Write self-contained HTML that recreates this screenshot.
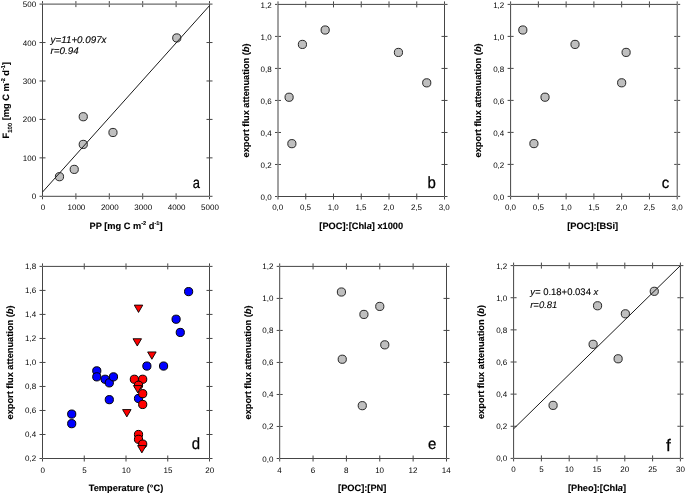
<!DOCTYPE html>
<html lang="en"><head><meta charset="utf-8"><title>Figure</title>
<style>
html,body{margin:0;padding:0;background:#fff}
body{width:685px;height:495px;overflow:hidden}
svg{display:block}
text{font-family:"Liberation Sans",Arial,sans-serif;fill:#333;text-rendering:geometricPrecision}
.t{font-size:8.00px;fill:#000;text-rendering:geometricPrecision}
.b{font-size:9.25px;font-weight:bold;fill:#000;stroke:#000;stroke-width:0.12px}
.L{fill:#000;stroke:#000;stroke-width:0.25px}
.eq{font-size:9.8px;font-style:italic;fill:#000;stroke:#000;stroke-width:0.12px}
.eq2{font-size:9.5px;font-style:italic;fill:#000;stroke:#000;stroke-width:0.1px}
</style></head><body>
<svg width="685" height="495" viewBox="0 0 685 495">
<rect width="685" height="495" fill="#fff"/>
<text x="43.00" y="209.90" class="t" text-anchor="middle">0</text>
<text x="76.40" y="209.90" class="t" text-anchor="middle">1000</text>
<text x="109.80" y="209.90" class="t" text-anchor="middle">2000</text>
<text x="143.20" y="209.90" class="t" text-anchor="middle">3000</text>
<text x="176.60" y="209.90" class="t" text-anchor="middle">4000</text>
<text x="210.00" y="209.90" class="t" text-anchor="middle">5000</text>
<text x="36.20" y="199.30" class="t" text-anchor="end">0</text>
<text x="36.20" y="160.86" class="t" text-anchor="end">100</text>
<text x="36.20" y="122.42" class="t" text-anchor="end">200</text>
<text x="36.20" y="83.98" class="t" text-anchor="end">300</text>
<text x="36.20" y="45.54" class="t" text-anchor="end">400</text>
<text x="36.20" y="7.10" class="t" text-anchor="end">500</text>
<path d="M42.50 4.10H209.50V196.30H42.50ZM42.50 196.80V199.30M42.50 3.60V1.10M75.90 193.30V195.80M75.90 196.80V199.30M75.90 1.10V3.60M75.90 4.60V7.10M109.30 193.30V195.80M109.30 196.80V199.30M109.30 1.10V3.60M109.30 4.60V7.10M142.70 193.30V195.80M142.70 196.80V199.30M142.70 1.10V3.60M142.70 4.60V7.10M176.10 193.30V195.80M176.10 196.80V199.30M176.10 1.10V3.60M176.10 4.60V7.10M209.50 196.80V199.30M209.50 3.60V1.10M42.00 196.30H39.50M210.00 196.30H212.50M39.50 157.86H42.00M43.00 157.86H45.50M206.50 157.86H209.00M210.00 157.86H212.50M39.50 119.42H42.00M43.00 119.42H45.50M206.50 119.42H209.00M210.00 119.42H212.50M39.50 80.98H42.00M43.00 80.98H45.50M206.50 80.98H209.00M210.00 80.98H212.50M39.50 42.54H42.00M43.00 42.54H45.50M206.50 42.54H209.00M210.00 42.54H212.50M42.00 4.10H39.50M210.00 4.10H212.50" stroke="#454545" stroke-width="1.00" fill="none"/>
<circle cx="59.47" cy="176.70" r="4.10" fill="#bfbfbf" stroke="#1c1c1c" stroke-width="0.95"/>
<circle cx="74.23" cy="169.39" r="4.10" fill="#bfbfbf" stroke="#1c1c1c" stroke-width="0.95"/>
<circle cx="83.25" cy="144.41" r="4.10" fill="#bfbfbf" stroke="#1c1c1c" stroke-width="0.95"/>
<circle cx="83.25" cy="116.73" r="4.10" fill="#bfbfbf" stroke="#1c1c1c" stroke-width="0.95"/>
<circle cx="112.97" cy="132.49" r="4.10" fill="#bfbfbf" stroke="#1c1c1c" stroke-width="0.95"/>
<circle cx="176.77" cy="37.93" r="4.10" fill="#bfbfbf" stroke="#1c1c1c" stroke-width="0.95"/>
<line x1="42.50" y1="192.07" x2="209.50" y2="5.64" stroke="#1a1a1a" stroke-width="1"/>
<text x="50.6" y="42.8" class="eq">y=11+0.097x</text><text x="50.6" y="53.9" class="eq">r=0.94</text>
<text x="126.00" y="228.80" class="b" text-anchor="middle">PP [mg C m<tspan dy="-4.1" font-size="5.6">-2</tspan><tspan dy="4.1"> d</tspan><tspan dy="-4.1" font-size="5.6">-1</tspan><tspan dy="4.1">]</tspan></text>
<text transform="translate(9.00 100.20) rotate(-90)" class="b" text-anchor="middle">F<tspan dy="2.7" font-size="6">100</tspan><tspan dy="-2.7"> [mg C m</tspan><tspan dy="-4.1" font-size="5.6">-2</tspan><tspan dy="4.1"> d</tspan><tspan dy="-4.1" font-size="5.6">-1</tspan><tspan dy="4.1">]</tspan></text>
<text transform="translate(192.70 187.50) scale(0.830 1)" class="L" font-size="15.6">a</text>
<text x="277.70" y="210.40" class="t" text-anchor="middle">0,0</text>
<text x="305.45" y="210.40" class="t" text-anchor="middle">0,5</text>
<text x="333.20" y="210.40" class="t" text-anchor="middle">1,0</text>
<text x="360.95" y="210.40" class="t" text-anchor="middle">1,5</text>
<text x="388.70" y="210.40" class="t" text-anchor="middle">2,0</text>
<text x="416.45" y="210.40" class="t" text-anchor="middle">2,5</text>
<text x="444.20" y="210.40" class="t" text-anchor="middle">3,0</text>
<text x="271.70" y="200.10" class="t" text-anchor="end">0,0</text>
<text x="271.70" y="168.08" class="t" text-anchor="end">0,2</text>
<text x="271.70" y="136.07" class="t" text-anchor="end">0,4</text>
<text x="271.70" y="104.05" class="t" text-anchor="end">0,6</text>
<text x="271.70" y="72.03" class="t" text-anchor="end">0,8</text>
<text x="271.70" y="40.02" class="t" text-anchor="end">1,0</text>
<text x="271.70" y="8.00" class="t" text-anchor="end">1,2</text>
<path d="M278.00 4.40H444.50V196.50H278.00ZM278.00 197.00V199.50M278.00 3.90V1.40M305.75 193.50V196.00M305.75 197.00V199.50M305.75 1.40V3.90M305.75 4.90V7.40M333.50 193.50V196.00M333.50 197.00V199.50M333.50 1.40V3.90M333.50 4.90V7.40M361.25 193.50V196.00M361.25 197.00V199.50M361.25 1.40V3.90M361.25 4.90V7.40M389.00 193.50V196.00M389.00 197.00V199.50M389.00 1.40V3.90M389.00 4.90V7.40M416.75 193.50V196.00M416.75 197.00V199.50M416.75 1.40V3.90M416.75 4.90V7.40M444.50 197.00V199.50M444.50 3.90V1.40M277.50 196.50H275.00M445.00 196.50H447.50M275.00 164.48H277.50M278.50 164.48H281.00M441.50 164.48H444.00M445.00 164.48H447.50M275.00 132.47H277.50M278.50 132.47H281.00M441.50 132.47H444.00M445.00 132.47H447.50M275.00 100.45H277.50M278.50 100.45H281.00M441.50 100.45H444.00M445.00 100.45H447.50M275.00 68.43H277.50M278.50 68.43H281.00M441.50 68.43H444.00M445.00 68.43H447.50M275.00 36.42H277.50M278.50 36.42H281.00M441.50 36.42H444.00M445.00 36.42H447.50M277.50 4.40H275.00M445.00 4.40H447.50" stroke="#454545" stroke-width="1.00" fill="none"/>
<circle cx="289.10" cy="97.25" r="4.10" fill="#bfbfbf" stroke="#1c1c1c" stroke-width="0.95"/>
<circle cx="291.88" cy="143.67" r="4.10" fill="#bfbfbf" stroke="#1c1c1c" stroke-width="0.95"/>
<circle cx="302.42" cy="44.42" r="4.10" fill="#bfbfbf" stroke="#1c1c1c" stroke-width="0.95"/>
<circle cx="325.18" cy="30.01" r="4.10" fill="#bfbfbf" stroke="#1c1c1c" stroke-width="0.95"/>
<circle cx="398.44" cy="52.43" r="4.10" fill="#bfbfbf" stroke="#1c1c1c" stroke-width="0.95"/>
<circle cx="426.74" cy="82.84" r="4.10" fill="#bfbfbf" stroke="#1c1c1c" stroke-width="0.95"/>
<text x="361.25" y="229.00" class="b" text-anchor="middle">[POC]:[Chl<tspan font-style="italic">a</tspan>] x1000</text>
<text transform="translate(249.00 100.45) rotate(-90)" class="b" text-anchor="middle">export flux attenuation (<tspan font-style="italic">b</tspan>)</text>
<text transform="translate(427.40 187.70) scale(0.920 1)" class="L" font-size="16.3">b</text>
<text x="510.50" y="210.20" class="t" text-anchor="middle">0,0</text>
<text x="538.27" y="210.20" class="t" text-anchor="middle">0,5</text>
<text x="566.03" y="210.20" class="t" text-anchor="middle">1,0</text>
<text x="593.80" y="210.20" class="t" text-anchor="middle">1,5</text>
<text x="621.57" y="210.20" class="t" text-anchor="middle">2,0</text>
<text x="649.33" y="210.20" class="t" text-anchor="middle">2,5</text>
<text x="677.10" y="210.20" class="t" text-anchor="middle">3,0</text>
<text x="504.30" y="199.90" class="t" text-anchor="end">0,0</text>
<text x="504.30" y="167.90" class="t" text-anchor="end">0,2</text>
<text x="504.30" y="135.90" class="t" text-anchor="end">0,4</text>
<text x="504.30" y="103.90" class="t" text-anchor="end">0,6</text>
<text x="504.30" y="71.90" class="t" text-anchor="end">0,8</text>
<text x="504.30" y="39.90" class="t" text-anchor="end">1,0</text>
<text x="504.30" y="7.90" class="t" text-anchor="end">1,2</text>
<path d="M510.60 4.40H677.20V196.40H510.60ZM510.60 196.90V199.40M510.60 3.90V1.40M538.37 193.40V195.90M538.37 196.90V199.40M538.37 1.40V3.90M538.37 4.90V7.40M566.13 193.40V195.90M566.13 196.90V199.40M566.13 1.40V3.90M566.13 4.90V7.40M593.90 193.40V195.90M593.90 196.90V199.40M593.90 1.40V3.90M593.90 4.90V7.40M621.67 193.40V195.90M621.67 196.90V199.40M621.67 1.40V3.90M621.67 4.90V7.40M649.43 193.40V195.90M649.43 196.90V199.40M649.43 1.40V3.90M649.43 4.90V7.40M677.20 196.90V199.40M677.20 3.90V1.40M510.10 196.40H507.60M677.70 196.40H680.20M507.60 164.40H510.10M511.10 164.40H513.60M674.20 164.40H676.70M677.70 164.40H680.20M507.60 132.40H510.10M511.10 132.40H513.60M674.20 132.40H676.70M677.70 132.40H680.20M507.60 100.40H510.10M511.10 100.40H513.60M674.20 100.40H676.70M677.70 100.40H680.20M507.60 68.40H510.10M511.10 68.40H513.60M674.20 68.40H676.70M677.70 68.40H680.20M507.60 36.40H510.10M511.10 36.40H513.60M674.20 36.40H676.70M677.70 36.40H680.20M510.10 4.40H507.60M677.70 4.40H680.20" stroke="#454545" stroke-width="1.00" fill="none"/>
<circle cx="522.82" cy="30.00" r="4.10" fill="#bfbfbf" stroke="#1c1c1c" stroke-width="0.95"/>
<circle cx="533.92" cy="143.60" r="4.10" fill="#bfbfbf" stroke="#1c1c1c" stroke-width="0.95"/>
<circle cx="545.03" cy="97.20" r="4.10" fill="#bfbfbf" stroke="#1c1c1c" stroke-width="0.95"/>
<circle cx="575.02" cy="44.40" r="4.10" fill="#bfbfbf" stroke="#1c1c1c" stroke-width="0.95"/>
<circle cx="621.67" cy="82.80" r="4.10" fill="#bfbfbf" stroke="#1c1c1c" stroke-width="0.95"/>
<circle cx="626.11" cy="52.40" r="4.10" fill="#bfbfbf" stroke="#1c1c1c" stroke-width="0.95"/>
<text x="592.70" y="228.80" class="b" text-anchor="middle">[POC]:[BSi]</text>
<text transform="translate(481.00 100.40) rotate(-90)" class="b" text-anchor="middle">export flux attenuation (<tspan font-style="italic">b</tspan>)</text>
<text transform="translate(661.80 187.70) scale(0.960 1)" class="L" font-size="15.6">c</text>
<text x="42.70" y="472.60" class="t" text-anchor="middle">0</text>
<text x="84.45" y="472.60" class="t" text-anchor="middle">5</text>
<text x="126.20" y="472.60" class="t" text-anchor="middle">10</text>
<text x="167.95" y="472.60" class="t" text-anchor="middle">15</text>
<text x="209.70" y="472.60" class="t" text-anchor="middle">20</text>
<text x="36.20" y="461.20" class="t" text-anchor="end">0,2</text>
<text x="36.20" y="437.19" class="t" text-anchor="end">0,4</text>
<text x="36.20" y="413.17" class="t" text-anchor="end">0,6</text>
<text x="36.20" y="389.16" class="t" text-anchor="end">0,8</text>
<text x="36.20" y="365.15" class="t" text-anchor="end">1,0</text>
<text x="36.20" y="341.14" class="t" text-anchor="end">1,2</text>
<text x="36.20" y="317.12" class="t" text-anchor="end">1,4</text>
<text x="36.20" y="293.11" class="t" text-anchor="end">1,6</text>
<text x="36.20" y="269.10" class="t" text-anchor="end">1,8</text>
<path d="M42.50 266.40H209.50V458.50H42.50ZM42.50 459.00V461.50M42.50 265.90V263.40M84.25 455.50V458.00M84.25 459.00V461.50M84.25 263.40V265.90M84.25 266.90V269.40M126.00 455.50V458.00M126.00 459.00V461.50M126.00 263.40V265.90M126.00 266.90V269.40M167.75 455.50V458.00M167.75 459.00V461.50M167.75 263.40V265.90M167.75 266.90V269.40M209.50 459.00V461.50M209.50 265.90V263.40M42.00 458.50H39.50M210.00 458.50H212.50M39.50 434.49H42.00M43.00 434.49H45.50M206.50 434.49H209.00M210.00 434.49H212.50M39.50 410.47H42.00M43.00 410.47H45.50M206.50 410.47H209.00M210.00 410.47H212.50M39.50 386.46H42.00M43.00 386.46H45.50M206.50 386.46H209.00M210.00 386.46H212.50M39.50 362.45H42.00M43.00 362.45H45.50M206.50 362.45H209.00M210.00 362.45H212.50M39.50 338.44H42.00M43.00 338.44H45.50M206.50 338.44H209.00M210.00 338.44H212.50M39.50 314.42H42.00M43.00 314.42H45.50M206.50 314.42H209.00M210.00 314.42H212.50M39.50 290.41H42.00M43.00 290.41H45.50M206.50 290.41H209.00M210.00 290.41H212.50M42.00 266.40H39.50M210.00 266.40H212.50" stroke="#454545" stroke-width="1.00" fill="none"/>
<circle cx="71.72" cy="414.08" r="4.10" fill="#0000ff" stroke="#000" stroke-width="1"/>
<circle cx="71.72" cy="423.68" r="4.10" fill="#0000ff" stroke="#000" stroke-width="1"/>
<circle cx="96.78" cy="370.85" r="4.10" fill="#0000ff" stroke="#000" stroke-width="1"/>
<circle cx="96.78" cy="376.86" r="4.10" fill="#0000ff" stroke="#000" stroke-width="1"/>
<circle cx="105.12" cy="379.26" r="4.10" fill="#0000ff" stroke="#000" stroke-width="1"/>
<circle cx="109.30" cy="382.86" r="4.10" fill="#0000ff" stroke="#000" stroke-width="1"/>
<circle cx="113.47" cy="376.86" r="4.10" fill="#0000ff" stroke="#000" stroke-width="1"/>
<circle cx="109.30" cy="399.67" r="4.10" fill="#0000ff" stroke="#000" stroke-width="1"/>
<circle cx="138.52" cy="398.47" r="4.10" fill="#0000ff" stroke="#000" stroke-width="1"/>
<circle cx="146.88" cy="366.05" r="4.10" fill="#0000ff" stroke="#000" stroke-width="1"/>
<circle cx="163.57" cy="366.05" r="4.10" fill="#0000ff" stroke="#000" stroke-width="1"/>
<circle cx="176.10" cy="319.23" r="4.10" fill="#0000ff" stroke="#000" stroke-width="1"/>
<circle cx="180.28" cy="332.43" r="4.10" fill="#0000ff" stroke="#000" stroke-width="1"/>
<circle cx="188.62" cy="291.61" r="4.10" fill="#0000ff" stroke="#000" stroke-width="1"/>
<circle cx="134.35" cy="379.26" r="4.10" fill="#ff0000" stroke="#000" stroke-width="1"/>
<circle cx="142.70" cy="379.26" r="4.10" fill="#ff0000" stroke="#000" stroke-width="1"/>
<circle cx="138.52" cy="385.26" r="4.10" fill="#ff0000" stroke="#000" stroke-width="1"/>
<circle cx="142.70" cy="393.67" r="4.10" fill="#ff0000" stroke="#000" stroke-width="1"/>
<circle cx="142.70" cy="404.47" r="4.10" fill="#ff0000" stroke="#000" stroke-width="1"/>
<circle cx="138.52" cy="434.49" r="4.10" fill="#ff0000" stroke="#000" stroke-width="1"/>
<circle cx="138.52" cy="439.29" r="4.10" fill="#ff0000" stroke="#000" stroke-width="1"/>
<circle cx="142.70" cy="444.09" r="4.10" fill="#ff0000" stroke="#000" stroke-width="1"/>
<path d="M134.27 305.12h8.50l-4.25 7.30z" fill="#ff0000" stroke="#000" stroke-width="0.9" stroke-linejoin="miter"/>
<path d="M133.02 338.74h8.50l-4.25 7.30z" fill="#ff0000" stroke="#000" stroke-width="0.9" stroke-linejoin="miter"/>
<path d="M147.63 351.95h8.50l-4.25 7.30z" fill="#ff0000" stroke="#000" stroke-width="0.9" stroke-linejoin="miter"/>
<path d="M122.58 409.58h8.50l-4.25 7.30z" fill="#ff0000" stroke="#000" stroke-width="0.9" stroke-linejoin="miter"/>
<path d="M133.44 385.56h8.50l-4.25 7.30z" fill="#ff0000" stroke="#000" stroke-width="0.9" stroke-linejoin="miter"/>
<path d="M137.62 445.59h8.50l-4.25 7.30z" fill="#ff0000" stroke="#000" stroke-width="0.9" stroke-linejoin="miter"/>
<text x="126.00" y="490.80" class="b" text-anchor="middle">Temperature (°C)</text>
<text transform="translate(13.20 362.45) rotate(-90)" class="b" text-anchor="middle">export flux attenuation (<tspan font-style="italic">b</tspan>)</text>
<text transform="translate(191.70 449.30) scale(0.920 1)" class="L" font-size="16.3">d</text>
<text x="279.50" y="472.60" class="t" text-anchor="middle">4</text>
<text x="312.86" y="472.60" class="t" text-anchor="middle">6</text>
<text x="346.22" y="472.60" class="t" text-anchor="middle">8</text>
<text x="379.58" y="472.60" class="t" text-anchor="middle">10</text>
<text x="412.94" y="472.60" class="t" text-anchor="middle">12</text>
<text x="446.30" y="472.60" class="t" text-anchor="middle">14</text>
<text x="273.40" y="461.50" class="t" text-anchor="end">0,0</text>
<text x="273.40" y="429.48" class="t" text-anchor="end">0,2</text>
<text x="273.40" y="397.47" class="t" text-anchor="end">0,4</text>
<text x="273.40" y="365.45" class="t" text-anchor="end">0,6</text>
<text x="273.40" y="333.43" class="t" text-anchor="end">0,8</text>
<text x="273.40" y="301.42" class="t" text-anchor="end">1,0</text>
<text x="273.40" y="269.40" class="t" text-anchor="end">1,2</text>
<path d="M279.70 266.40H446.50V458.50H279.70ZM279.70 459.00V461.50M279.70 265.90V263.40M313.06 455.50V458.00M313.06 459.00V461.50M313.06 263.40V265.90M313.06 266.90V269.40M346.42 455.50V458.00M346.42 459.00V461.50M346.42 263.40V265.90M346.42 266.90V269.40M379.78 455.50V458.00M379.78 459.00V461.50M379.78 263.40V265.90M379.78 266.90V269.40M413.14 455.50V458.00M413.14 459.00V461.50M413.14 263.40V265.90M413.14 266.90V269.40M446.50 459.00V461.50M446.50 265.90V263.40M279.20 458.50H276.70M447.00 458.50H449.50M276.70 426.48H279.20M280.20 426.48H282.70M443.50 426.48H446.00M447.00 426.48H449.50M276.70 394.47H279.20M280.20 394.47H282.70M443.50 394.47H446.00M447.00 394.47H449.50M276.70 362.45H279.20M280.20 362.45H282.70M443.50 362.45H446.00M447.00 362.45H449.50M276.70 330.43H279.20M280.20 330.43H282.70M443.50 330.43H446.00M447.00 330.43H449.50M276.70 298.42H279.20M280.20 298.42H282.70M443.50 298.42H446.00M447.00 298.42H449.50M279.20 266.40H276.70M447.00 266.40H449.50" stroke="#454545" stroke-width="1.00" fill="none"/>
<circle cx="341.42" cy="292.01" r="4.10" fill="#bfbfbf" stroke="#1c1c1c" stroke-width="0.95"/>
<circle cx="342.25" cy="359.25" r="4.10" fill="#bfbfbf" stroke="#1c1c1c" stroke-width="0.95"/>
<circle cx="362.27" cy="405.67" r="4.10" fill="#bfbfbf" stroke="#1c1c1c" stroke-width="0.95"/>
<circle cx="363.93" cy="314.42" r="4.10" fill="#bfbfbf" stroke="#1c1c1c" stroke-width="0.95"/>
<circle cx="379.78" cy="306.42" r="4.10" fill="#bfbfbf" stroke="#1c1c1c" stroke-width="0.95"/>
<circle cx="384.78" cy="344.84" r="4.10" fill="#bfbfbf" stroke="#1c1c1c" stroke-width="0.95"/>
<text x="362.20" y="491.00" class="b" text-anchor="middle">[POC]:[PN]</text>
<text transform="translate(251.30 362.45) rotate(-90)" class="b" text-anchor="middle">export flux attenuation (<tspan font-style="italic">b</tspan>)</text>
<text transform="translate(428.00 449.00) scale(0.960 1)" class="L" font-size="15.6">e</text>
<text x="513.60" y="472.00" class="t" text-anchor="middle">0</text>
<text x="541.40" y="472.00" class="t" text-anchor="middle">5</text>
<text x="569.20" y="472.00" class="t" text-anchor="middle">10</text>
<text x="597.00" y="472.00" class="t" text-anchor="middle">15</text>
<text x="624.80" y="472.00" class="t" text-anchor="middle">20</text>
<text x="652.60" y="472.00" class="t" text-anchor="middle">25</text>
<text x="680.40" y="472.00" class="t" text-anchor="middle">30</text>
<text x="507.30" y="461.40" class="t" text-anchor="end">0,0</text>
<text x="507.30" y="429.27" class="t" text-anchor="end">0,2</text>
<text x="507.30" y="397.13" class="t" text-anchor="end">0,4</text>
<text x="507.30" y="365.00" class="t" text-anchor="end">0,6</text>
<text x="507.30" y="332.87" class="t" text-anchor="end">0,8</text>
<text x="507.30" y="300.73" class="t" text-anchor="end">1,0</text>
<text x="507.30" y="268.60" class="t" text-anchor="end">1,2</text>
<path d="M513.60 265.60H680.40V458.40H513.60ZM513.60 458.90V461.40M513.60 265.10V262.60M541.40 455.40V457.90M541.40 458.90V461.40M541.40 262.60V265.10M541.40 266.10V268.60M569.20 455.40V457.90M569.20 458.90V461.40M569.20 262.60V265.10M569.20 266.10V268.60M597.00 455.40V457.90M597.00 458.90V461.40M597.00 262.60V265.10M597.00 266.10V268.60M624.80 455.40V457.90M624.80 458.90V461.40M624.80 262.60V265.10M624.80 266.10V268.60M652.60 455.40V457.90M652.60 458.90V461.40M652.60 262.60V265.10M652.60 266.10V268.60M680.40 458.90V461.40M680.40 265.10V262.60M513.10 458.40H510.60M680.90 458.40H683.40M510.60 426.27H513.10M514.10 426.27H516.60M677.40 426.27H679.90M680.90 426.27H683.40M510.60 394.13H513.10M514.10 394.13H516.60M677.40 394.13H679.90M680.90 394.13H683.40M510.60 362.00H513.10M514.10 362.00H516.60M677.40 362.00H679.90M680.90 362.00H683.40M510.60 329.87H513.10M514.10 329.87H516.60M677.40 329.87H679.90M680.90 329.87H683.40M510.60 297.73H513.10M514.10 297.73H516.60M677.40 297.73H679.90M680.90 297.73H683.40M513.10 265.60H510.60M680.90 265.60H683.40" stroke="#454545" stroke-width="1.00" fill="none"/>
<circle cx="553.08" cy="405.38" r="4.10" fill="#bfbfbf" stroke="#1c1c1c" stroke-width="0.95"/>
<circle cx="593.11" cy="344.33" r="4.10" fill="#bfbfbf" stroke="#1c1c1c" stroke-width="0.95"/>
<circle cx="597.56" cy="305.77" r="4.10" fill="#bfbfbf" stroke="#1c1c1c" stroke-width="0.95"/>
<circle cx="618.13" cy="358.79" r="4.10" fill="#bfbfbf" stroke="#1c1c1c" stroke-width="0.95"/>
<circle cx="625.36" cy="313.80" r="4.10" fill="#bfbfbf" stroke="#1c1c1c" stroke-width="0.95"/>
<circle cx="654.27" cy="291.31" r="4.10" fill="#bfbfbf" stroke="#1c1c1c" stroke-width="0.95"/>
<line x1="513.60" y1="428.84" x2="680.40" y2="265.60" stroke="#1a1a1a" stroke-width="1"/>
<text x="530.2" y="295" class="eq2" xml:space="preserve">y= <tspan font-style="normal">0.18+0.034</tspan> x</text><text x="530.2" y="307.8" class="eq2">r=0.81</text>
<text x="597.00" y="490.80" class="b" text-anchor="middle">[Pheo]:[Chl<tspan font-style="italic">a</tspan>]</text>
<text transform="translate(484.40 362.00) rotate(-90)" class="b" text-anchor="middle">export flux attenuation (<tspan font-style="italic">b</tspan>)</text>
<text transform="translate(665.90 450.60) scale(1.030 1)" class="L" font-size="16.8">f</text>
</svg>
</body></html>
